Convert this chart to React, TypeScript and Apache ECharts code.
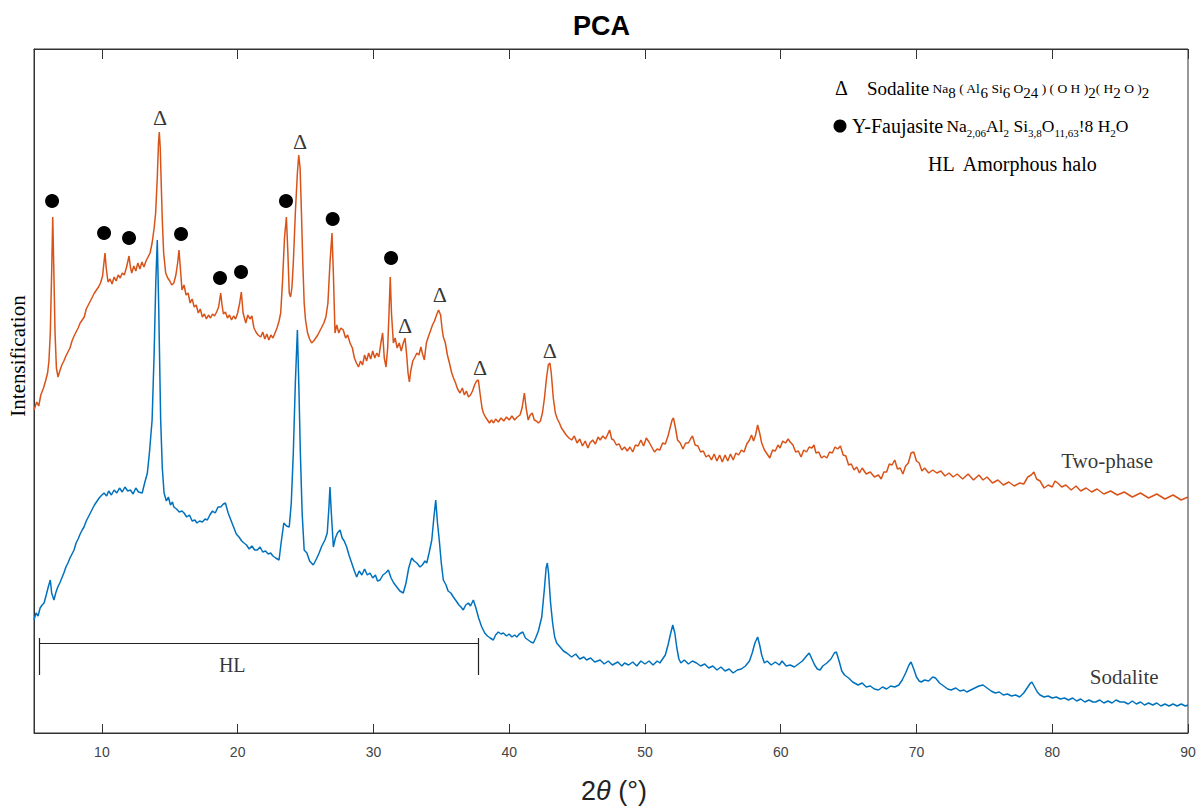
import React, { useEffect, useRef } from "react";
import * as echarts from "echarts";

const xTicks = [10, 20, 30, 40, 50, 60, 70, 80, 90];

// Two-phase pattern [2θ, intensity (a.u.)]
const twoPhase: [number, number][] = [
  [5.0, 323], [5.2, 331], [5.35, 327], [5.5, 338], [5.7, 345], [5.85, 352], [6.0, 360], [6.1, 372], [6.2, 400], [6.3, 460], [6.38, 516], [6.45, 470], [6.55, 400], [6.65, 365], [6.77, 356], [6.9, 362], [7.05, 368], [7.2, 372], [7.35, 377], [7.5, 381], [7.65, 385], [7.8, 392], [7.95, 397], [8.1, 401], [8.25, 405], [8.4, 410], [8.55, 413], [8.7, 416], [8.85, 424], [9.0, 428], [9.15, 432], [9.3, 436], [9.45, 440], [9.6, 443], [9.75, 446], [9.9, 450], [10.05, 457], [10.15, 470], [10.23, 480], [10.32, 465], [10.45, 451], [10.6, 454], [10.75, 449], [10.9, 456], [11.05, 452], [11.2, 458], [11.35, 455], [11.5, 460], [11.65, 458], [11.8, 465], [11.92, 472], [12.0, 477], [12.1, 466], [12.2, 460], [12.35, 467], [12.5, 462], [12.65, 470], [12.8, 464], [12.95, 471], [13.1, 466], [13.25, 472], [13.4, 476], [13.55, 480], [13.7, 490], [13.85, 505], [13.96, 520], [14.08, 555], [14.17, 590], [14.23, 601], [14.3, 585], [14.38, 545], [14.45, 513], [14.55, 480], [14.7, 460], [14.85, 455], [15.0, 452], [15.15, 448], [15.3, 450], [15.45, 458], [15.58, 470], [15.68, 483], [15.78, 465], [15.9, 443], [16.05, 448], [16.2, 438], [16.35, 440], [16.5, 430], [16.65, 434], [16.8, 426], [16.95, 428], [17.1, 420], [17.25, 424], [17.4, 416], [17.55, 419], [17.7, 414], [17.85, 418], [18.0, 415], [18.15, 419], [18.3, 417], [18.45, 421], [18.6, 426], [18.75, 440], [18.85, 428], [18.95, 419], [19.1, 421], [19.25, 415], [19.4, 418], [19.55, 413], [19.7, 417], [19.85, 414], [20.0, 420], [20.15, 430], [20.27, 441], [20.4, 420], [20.6, 410], [20.75, 418], [20.9, 414], [21.05, 417], [21.2, 405], [21.35, 401], [21.5, 398], [21.7, 396], [21.85, 401], [22.0, 394], [22.15, 399], [22.3, 393], [22.45, 398], [22.6, 395], [22.75, 400], [22.9, 405], [23.05, 412], [23.17, 420], [23.3, 450], [23.45, 495], [23.59, 516], [23.7, 480], [23.8, 440], [23.9, 436], [24.0, 446], [24.1, 470], [24.25, 520], [24.4, 560], [24.5, 578], [24.6, 565], [24.7, 520], [24.8, 470], [24.9, 430], [25.0, 413], [25.15, 400], [25.3, 394], [25.45, 390], [25.6, 392], [25.75, 395], [25.9, 398], [26.05, 402], [26.2, 406], [26.35, 410], [26.5, 416], [26.65, 430], [26.8, 470], [26.95, 500], [27.05, 460], [27.17, 400], [27.3, 408], [27.45, 400], [27.6, 405], [27.78, 403], [27.95, 395], [28.1, 398], [28.28, 390], [28.45, 385], [28.6, 375], [28.75, 370], [28.9, 366], [29.05, 372], [29.2, 368], [29.35, 378], [29.5, 372], [29.65, 380], [29.8, 374], [29.95, 382], [30.1, 375], [30.25, 380], [30.4, 376], [30.55, 390], [30.68, 400], [30.8, 375], [30.93, 366], [31.05, 385], [31.15, 420], [31.24, 456], [31.33, 420], [31.47, 390], [31.6, 395], [31.75, 385], [31.9, 390], [32.05, 382], [32.2, 390], [32.33, 395], [32.45, 378], [32.55, 360], [32.65, 351], [32.75, 362], [32.9, 372], [33.06, 376], [33.2, 380], [33.35, 378], [33.5, 386], [33.6, 380], [33.75, 373], [33.9, 390], [34.04, 396], [34.2, 402], [34.35, 408], [34.5, 412], [34.65, 418], [34.8, 423], [34.95, 418], [35.05, 405], [35.15, 396], [35.3, 390], [35.45, 378], [35.6, 370], [35.77, 360], [35.9, 355], [36.05, 350], [36.2, 344], [36.38, 340], [36.55, 345], [36.7, 338], [36.85, 342], [37.0, 336], [37.15, 338], [37.3, 342], [37.45, 348], [37.6, 352], [37.73, 353], [37.85, 340], [38.0, 325], [38.1, 320], [38.25, 316], [38.4, 313], [38.55, 310], [38.7, 313], [38.85, 310], [39.0, 314], [39.2, 311], [39.4, 315], [39.6, 312], [39.8, 316], [40.0, 313], [40.2, 317], [40.4, 313], [40.6, 316], [40.8, 318], [40.95, 325], [41.12, 340], [41.25, 325], [41.4, 313], [41.55, 318], [41.7, 320], [41.85, 313], [42.0, 312], [42.15, 310], [42.3, 312], [42.45, 320], [42.6, 335], [42.75, 355], [42.88, 368], [43.0, 370], [43.1, 360], [43.25, 335], [43.4, 320], [43.55, 314], [43.7, 310], [43.85, 305], [44.0, 302], [44.2, 298], [44.4, 295], [44.6, 293], [44.8, 297], [45.0, 290], [45.2, 294], [45.4, 287], [45.6, 292], [45.8, 285], [45.95, 290], [46.15, 293], [46.35, 289], [46.55, 296], [46.7, 293], [46.9, 297], [47.1, 294], [47.3, 300], [47.4, 303], [47.55, 294], [47.7, 293], [47.9, 288], [48.1, 289], [48.3, 283], [48.5, 286], [48.7, 282], [48.9, 286], [49.1, 281], [49.3, 288], [49.5, 287], [49.7, 293], [49.9, 287], [50.1, 295], [50.3, 291], [50.5, 286], [50.7, 281], [50.9, 284], [51.1, 283], [51.3, 290], [51.5, 289], [51.7, 297], [51.85, 305], [52.0, 313], [52.1, 315], [52.25, 305], [52.4, 293], [52.6, 290], [52.8, 284], [53.0, 290], [53.2, 290], [53.4, 295], [53.5, 297], [53.7, 288], [53.9, 287], [54.1, 281], [54.3, 282], [54.5, 276], [54.7, 278], [54.9, 273], [55.1, 279], [55.3, 272], [55.5, 278], [55.7, 271], [55.9, 278], [56.1, 272], [56.3, 279], [56.5, 273], [56.7, 280], [56.9, 278], [57.1, 283], [57.3, 281], [57.5, 289], [57.7, 293], [57.85, 298], [58.0, 292], [58.15, 298], [58.3, 308], [58.45, 300], [58.6, 290], [58.8, 283], [59.0, 279], [59.2, 275], [59.4, 283], [59.6, 282], [59.8, 288], [59.95, 285], [60.15, 292], [60.35, 290], [60.55, 294], [60.7, 291], [60.9, 288], [61.1, 281], [61.3, 282], [61.5, 276], [61.7, 283], [61.9, 281], [62.1, 286], [62.3, 285], [62.45, 288], [62.6, 280], [62.8, 281], [63.0, 275], [63.2, 277], [63.4, 275], [63.6, 281], [63.8, 280], [64.0, 286], [64.2, 284], [64.4, 287], [64.6, 278], [64.8, 277], [65.0, 268], [65.2, 269], [65.4, 263], [65.6, 266], [65.8, 260], [66.0, 265], [66.3, 259], [66.6, 261], [66.9, 256], [67.2, 258], [67.4, 254], [67.6, 261], [67.8, 261], [68.0, 269], [68.2, 268], [68.4, 273], [68.6, 264], [68.8, 265], [69.0, 259], [69.2, 267], [69.4, 270], [69.6, 280], [69.8, 281], [70.0, 272], [70.2, 270], [70.4, 262], [70.6, 265], [70.9, 260], [71.2, 263], [71.5, 260], [71.8, 262], [72.1, 257], [72.4, 260], [72.7, 256], [73.0, 259], [73.4, 254], [73.8, 259], [74.2, 253], [74.6, 258], [74.9, 253], [75.2, 256], [75.6, 250], [76.0, 253], [76.4, 248], [76.8, 251], [77.2, 247], [77.6, 250], [77.9, 249], [78.2, 256], [78.45, 258], [78.65, 261], [78.85, 254], [79.1, 252], [79.4, 245], [79.7, 248], [80.0, 246], [80.2, 252], [80.4, 250], [80.7, 246], [81.0, 248], [81.4, 243], [81.75, 247], [82.1, 242], [82.5, 245], [82.9, 241], [83.3, 244], [83.8, 239], [84.3, 242], [84.8, 238], [85.3, 241], [85.9, 236], [86.5, 240], [87.1, 235], [87.7, 239], [88.3, 234], [88.9, 238], [89.5, 233], [90.0, 236],
];

// Sodalite pattern [2θ, intensity (a.u.)]
const sodalite: [number, number][] = [
  [5.0, 113], [5.15, 120], [5.3, 117], [5.45, 125], [5.6, 128], [5.74, 130], [5.9, 138], [6.05, 146], [6.2, 153], [6.3, 140], [6.47, 133], [6.6, 140], [6.75, 146], [6.9, 150], [7.05, 155], [7.2, 160], [7.35, 166], [7.5, 170], [7.65, 175], [7.8, 179], [7.95, 183], [8.1, 190], [8.25, 194], [8.4, 199], [8.55, 203], [8.68, 206], [8.85, 212], [9.0, 216], [9.15, 220], [9.3, 224], [9.45, 228], [9.6, 231], [9.8, 235], [10.0, 238], [10.16, 240], [10.35, 237], [10.5, 242], [10.7, 238], [10.9, 243], [11.1, 240], [11.3, 245], [11.5, 241], [11.7, 246], [11.9, 242], [12.1, 243], [12.3, 239], [12.5, 245], [12.7, 241], [12.97, 240], [13.15, 250], [13.35, 260], [13.5, 280], [13.7, 313], [13.85, 380], [13.97, 450], [14.08, 493], [14.18, 430], [14.33, 313], [14.45, 265], [14.58, 240], [14.75, 232], [14.9, 236], [15.05, 228], [15.2, 231], [15.3, 226], [15.5, 224], [15.7, 221], [15.9, 222], [16.05, 220], [16.25, 216], [16.45, 218], [16.65, 212], [16.85, 213], [17.0, 210], [17.2, 212], [17.4, 211], [17.6, 214], [17.77, 213], [17.95, 218], [18.15, 222], [18.35, 220], [18.55, 226], [18.75, 226], [18.95, 229], [19.1, 230], [19.3, 220], [19.5, 213], [19.7, 206], [19.9, 199], [20.1, 196], [20.3, 192], [20.47, 190], [20.65, 188], [20.85, 184], [21.05, 187], [21.25, 183], [21.45, 183], [21.65, 186], [21.85, 181], [22.05, 182], [22.25, 179], [22.43, 180], [22.6, 177], [22.8, 175], [23.05, 173], [23.2, 190], [23.4, 210], [23.6, 207], [23.8, 206], [23.95, 230], [24.1, 280], [24.25, 350], [24.4, 403], [24.52, 340], [24.62, 280], [24.75, 220], [24.9, 183], [25.1, 180], [25.3, 172], [25.57, 168], [25.8, 174], [26.0, 180], [26.2, 187], [26.43, 193], [26.6, 200], [26.72, 225], [26.8, 246], [26.9, 220], [27.05, 186], [27.2, 195], [27.35, 200], [27.54, 203], [27.7, 195], [27.85, 192], [28.03, 186], [28.2, 178], [28.4, 170], [28.6, 162], [28.77, 156], [28.95, 162], [29.15, 158], [29.35, 164], [29.55, 158], [29.75, 160], [29.95, 155], [30.15, 158], [30.3, 152], [30.49, 153], [30.7, 158], [30.9, 160], [31.1, 163], [31.3, 155], [31.5, 150], [31.72, 146], [31.95, 142], [32.2, 140], [32.4, 150], [32.6, 165], [32.82, 175], [33.0, 172], [33.2, 170], [33.43, 166], [33.6, 168], [33.8, 172], [33.93, 170], [34.1, 180], [34.3, 193], [34.45, 215], [34.59, 233], [34.72, 210], [34.85, 193], [35.0, 170], [35.15, 153], [35.35, 148], [35.5, 142], [35.7, 140], [35.89, 136], [36.1, 132], [36.3, 128], [36.45, 126], [36.62, 123], [36.8, 128], [37.0, 130], [37.15, 127], [37.36, 133], [37.55, 125], [37.75, 115], [37.98, 106], [38.2, 100], [38.4, 97], [38.6, 95], [38.83, 93], [39.0, 98], [39.2, 101], [39.4, 99], [39.57, 100], [39.8, 97], [40.0, 99], [40.2, 96], [40.4, 98], [40.56, 96], [40.75, 99], [41.0, 101], [41.2, 95], [41.4, 93], [41.6, 91], [41.78, 90], [41.95, 95], [42.15, 102], [42.4, 116], [42.6, 145], [42.72, 165], [42.81, 170], [42.9, 160], [43.05, 130], [43.2, 110], [43.35, 96], [43.5, 90], [43.75, 86], [44.0, 82], [44.24, 80], [44.6, 76], [44.9, 79], [45.2, 74], [45.5, 76], [45.7, 73], [46.0, 75], [46.3, 71], [46.7, 73], [47.0, 69], [47.3, 72], [47.6, 68], [48.0, 71], [48.3, 67], [48.5, 70], [48.8, 68], [49.1, 71], [49.4, 67], [49.7, 72], [50.0, 69], [50.3, 72], [50.6, 68], [50.9, 72], [51.1, 70], [51.3, 74], [51.5, 78], [51.7, 88], [51.9, 100], [52.05, 108], [52.2, 100], [52.35, 85], [52.5, 74], [52.65, 70], [52.9, 73], [53.2, 69], [53.5, 72], [53.8, 70], [54.1, 67], [54.4, 69], [54.7, 65], [55.0, 67], [55.3, 63], [55.6, 66], [55.9, 62], [56.2, 64], [56.5, 60], [56.8, 63], [57.1, 64], [57.4, 67], [57.7, 72], [57.9, 80], [58.1, 90], [58.3, 96], [58.45, 88], [58.6, 78], [58.8, 70], [59.0, 72], [59.3, 68], [59.6, 71], [59.9, 68], [60.1, 72], [60.4, 67], [60.7, 68], [61.0, 66], [61.3, 69], [61.6, 72], [61.9, 77], [62.1, 80], [62.3, 74], [62.5, 68], [62.7, 64], [62.9, 63], [63.1, 67], [63.4, 70], [63.7, 74], [63.95, 80], [64.1, 81], [64.3, 72], [64.5, 62], [64.7, 58], [65.0, 55], [65.3, 51], [65.7, 48], [66.0, 50], [66.3, 46], [66.6, 47], [66.9, 44], [67.2, 43], [67.5, 46], [67.8, 44], [68.1, 47], [68.4, 46], [68.7, 48], [68.95, 53], [69.2, 60], [69.45, 68], [69.6, 71], [69.8, 64], [70.0, 56], [70.2, 52], [70.35, 51], [70.6, 53], [70.9, 52], [71.2, 56], [71.4, 55], [71.7, 50], [72.0, 47], [72.3, 44], [72.55, 43], [72.9, 45], [73.2, 42], [73.5, 43], [73.7, 41], [74.0, 43], [74.3, 45], [74.6, 47], [74.9, 48], [75.2, 45], [75.5, 42], [75.8, 40], [76.1, 41], [76.4, 38], [76.7, 39], [77.0, 37], [77.3, 38], [77.6, 36], [77.9, 40], [78.2, 46], [78.4, 50], [78.5, 51], [78.7, 46], [78.9, 41], [79.1, 38], [79.4, 36], [79.7, 37], [80.0, 35], [80.3, 36], [80.6, 34], [80.9, 35], [81.2, 33], [81.5, 35], [81.8, 32], [82.1, 34], [82.4, 31], [82.7, 33], [83.0, 31], [83.2, 31], [83.5, 33], [83.8, 30], [84.1, 32], [84.4, 30], [84.7, 33], [85.0, 31], [85.3, 31], [85.6, 29], [85.9, 32], [86.2, 29], [86.5, 31], [86.8, 28], [87.1, 30], [87.4, 28], [87.7, 30], [88.0, 27], [88.3, 29], [88.6, 27], [88.9, 29], [89.2, 27], [89.5, 29], [89.8, 27], [90.0, 28],
];

// Peak markers
const faujasiteMarks: [number, number][] = [
  [6.33, 532], [10.16, 500], [12.0, 495], [15.83, 499], [18.7, 455], [20.25, 461], [23.56, 532], [27.0, 514], [31.3, 475],
];
const sodaliteMarks: [number, number][] = [
  [14.28, 616], [24.6, 592], [32.33, 408], [34.9, 439], [37.85, 366], [43.0, 383],
];

// Amorphous halo bracket
const hlStart = 5.37;
const hlEnd = 37.7;
const hlLevel = 90;
const hlTickTop = 95;
const hlTickBottom = 58;
const hlLabel: [number, number] = [19.6, 68];

// Curve labels
const curveLabels: { name: string; at: [number, number] }[] = [
  { name: "Two-phase", at: [84.04, 272] },
  { name: "Sodalite", at: [85.3, 56] },
];

const SERIF = "'Liberation Serif', 'Times New Roman', serif";
const SANS = "'Liberation Sans', Arial, sans-serif";

export default function App() {
  const ref = useRef<HTMLDivElement>(null);
  useEffect(() => {
    const chart = echarts.init(ref.current!, null, { renderer: "svg" });
    const textLabel = (txt: string, size: number) => ({
      show: true,
      position: "inside",
      formatter: txt,
      fontSize: size,
      fontFamily: SERIF,
      color: "#000",
    });
    chart.setOption({
      animation: false,
      backgroundColor: "#fff",
      title: {
        text: "PCA",
        left: "center",
        top: 7,
        textStyle: { fontSize: 27, fontWeight: "bold", fontFamily: SANS, color: "#000" },
      },
      grid: { left: 34, right: 15, top: 49, bottom: 74, show: true, borderColor: "#333", borderWidth: 1, backgroundColor: "transparent" },
      xAxis: [
        {
          type: "value",
          min: 5,
          max: 90,
          position: "bottom",
          axisLine: { show: true, lineStyle: { color: "#333", width: 1 } },
          axisTick: { show: true, inside: true, length: 9, customValues: xTicks, lineStyle: { color: "#333" } },
          axisLabel: { customValues: xTicks, fontSize: 14, color: "#444", margin: 12, fontFamily: SANS },
          splitLine: { show: false },
        },
        {
          type: "value",
          min: 5,
          max: 90,
          position: "top",
          axisLine: { show: true, lineStyle: { color: "#333", width: 1 } },
          axisTick: { show: true, inside: true, length: 10, customValues: xTicks, lineStyle: { color: "#333" } },
          axisLabel: { show: false },
          splitLine: { show: false },
        },
      ],
      yAxis: {
        type: "value",
        min: 0,
        max: 684,
        axisLine: { show: true, lineStyle: { color: "#333" } },
        axisTick: { show: false },
        axisLabel: { show: false },
        splitLine: { show: false },
      },
      series: [
        {
          name: "Two-phase",
          type: "line",
          data: twoPhase,
          showSymbol: false,
          symbol: "none",
          lineStyle: { color: "#D95319", width: 1.5 },
          z: 3,
        },
        {
          name: "Sodalite",
          type: "line",
          data: sodalite,
          showSymbol: false,
          symbol: "none",
          lineStyle: { color: "#0072BD", width: 1.5 },
          z: 3,
        },
        {
          name: "Y-Faujasite peaks",
          type: "scatter",
          data: faujasiteMarks,
          symbol: "circle",
          symbolSize: 14,
          itemStyle: { color: "#000", opacity: 1 },
          z: 5,
        },
        {
          name: "Sodalite peaks",
          type: "scatter",
          data: sodaliteMarks,
          symbol: "circle",
          symbolSize: 1,
          itemStyle: { color: "rgba(0,0,0,0)" },
          label: textLabel("Δ", 22),
          z: 5,
        },
        {
          name: "HL bracket",
          type: "lines",
          coordinateSystem: "cartesian2d",
          polyline: false,
          lineStyle: { color: "#222", width: 1.2, opacity: 1 },
          data: [
            { coords: [[hlStart, hlLevel], [hlEnd, hlLevel]] },
            { coords: [[hlStart, hlTickTop], [hlStart, hlTickBottom]] },
            { coords: [[hlEnd, hlTickTop], [hlEnd, hlTickBottom]] },
          ],
          z: 4,
        },
        {
          name: "HL label",
          type: "scatter",
          data: [hlLabel],
          symbolSize: 1,
          itemStyle: { color: "rgba(0,0,0,0)" },
          label: textLabel("HL", 20),
        },
        {
          name: "Curve labels",
          type: "scatter",
          data: curveLabels.map((c) => ({ value: c.at, name: c.name })),
          symbolSize: 1,
          itemStyle: { color: "rgba(0,0,0,0)" },
          label: { ...textLabel("", 21), formatter: (p: any) => p.name },
        },
      ],
      graphic: [
        {
          type: "text",
          x: 18,
          y: 356,
          rotation: Math.PI / 2,
          style: { text: "Intensification", font: `21px ${SERIF}`, fill: "#000", align: "center", verticalAlign: "middle" },
        },
        {
          type: "text",
          x: 614,
          y: 791,
          style: {
            text: "{n|2}{t|θ}{n| (°)}",
            align: "center",
            verticalAlign: "middle",
            fill: "#222",
            rich: {
              n: { fontSize: 27, fontFamily: SANS, fill: "#222" },
              t: { fontSize: 27, fontFamily: SANS, fontStyle: "italic", fill: "#222" },
            },
          },
        },
        // Legend block
        {
          type: "text",
          x: 835,
          y: 88,
          style: { text: "Δ", font: `20px ${SERIF}`, fill: "#000", verticalAlign: "middle" },
        },
        {
          type: "text",
          x: 867,
          y: 88,
          style: {
            text: "{b|Sodalite} {f|Na}{s|8}{f| ( Al}{s|6}{f| Si}{s|6}{f| O}{s|24}{f| ) ( O H )}{s|2}{f|( H}{s|2}{f| O )}{s|2}",
            verticalAlign: "middle",
            fill: "#000",
            rich: {
              b: { fontSize: 19, fontFamily: SERIF, lineHeight: 24, verticalAlign: "middle" },
              f: { fontSize: 13.5, fontFamily: SERIF, lineHeight: 24, verticalAlign: "middle" },
              s: { fontSize: 15, fontFamily: SERIF, lineHeight: 16, verticalAlign: "bottom" },
            },
          },
        },
        {
          type: "circle",
          shape: { cx: 840, cy: 126, r: 6.5 },
          style: { fill: "#000" },
        },
        {
          type: "text",
          x: 852,
          y: 126,
          style: {
            text: "{b|Y-Faujasite} {f|Na}{s|2,06}{f|Al}{s|2}{f| Si}{s|3,8}{f|O}{s|11,63}{f|!8 H}{s|2}{f|O}",
            verticalAlign: "middle",
            fill: "#000",
            rich: {
              b: { fontSize: 20, fontFamily: SERIF, lineHeight: 24, verticalAlign: "middle" },
              f: { fontSize: 17.5, fontFamily: SERIF, lineHeight: 24, verticalAlign: "middle" },
              s: { fontSize: 11, fontFamily: SERIF, lineHeight: 11, verticalAlign: "bottom" },
            },
          },
        },
        {
          type: "text",
          x: 928,
          y: 164,
          style: { text: "HL  Amorphous halo", font: `20px ${SERIF}`, fill: "#000", verticalAlign: "middle" },
        },
      ],
    });
    return () => chart.dispose();
  }, []);
  return (
    <div
      ref={ref}
      style={{ position: "fixed", left: 0, top: 0, width: 1203, height: 807, background: "#fff" }}
    />
  );
}
